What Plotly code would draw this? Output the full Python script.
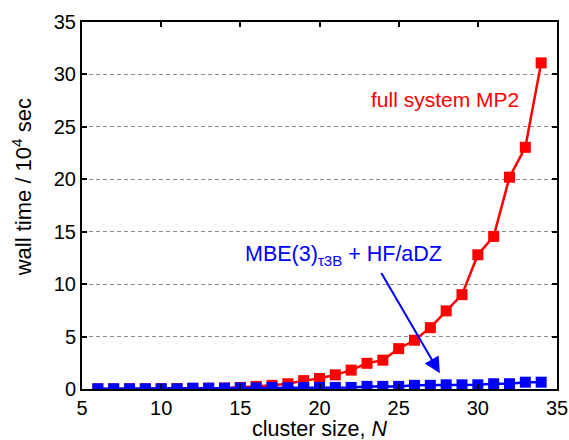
import plotly.graph_objects as go

# cluster sizes and wall times (units of 10^4 s)
n_full = list(range(6, 35))
t_full = [0.01, 0.01, 0.02, 0.02, 0.03, 0.04, 0.05, 0.07, 0.1,
          0.15, 0.25, 0.35, 0.5, 0.8, 1.0, 1.35, 1.8, 2.45, 2.75,
          3.85, 4.65, 5.85, 7.45, 9.0, 12.8, 14.55, 20.2, 23.05, 31.1]

n_mbe = list(range(6, 35))
t_mbe = [0.02, 0.02, 0.02, 0.02, 0.02, 0.02, 0.08, 0.08, 0.08,
         0.1, 0.1, 0.15, 0.12, 0.15, 0.15, 0.15, 0.15, 0.25, 0.25,
         0.25, 0.35, 0.35, 0.4, 0.4, 0.4, 0.5, 0.5, 0.65, 0.65]

x_ticks = [5, 10, 15, 20, 25, 30, 35]
y_ticks = [0, 5, 10, 15, 20, 25, 30, 35]

FONT = "Liberation Sans, Arial, Helvetica, sans-serif"
RED = "#ff0000"
BLUE = "#0000ff"

fig = go.Figure()
fig.add_trace(go.Scatter(
    x=n_full, y=t_full, mode="lines+markers",
    line=dict(color=RED, width=2.5),
    marker=dict(symbol="square", size=11, color=RED),
    showlegend=False,
))
fig.add_trace(go.Scatter(
    x=n_mbe, y=t_mbe, mode="lines+markers",
    line=dict(color=BLUE, width=2.5),
    marker=dict(symbol="square", size=11, color=BLUE),
    showlegend=False,
))

axis_common = dict(
    showline=True, linecolor="black", linewidth=2, mirror="ticks",
    ticks="inside", ticklen=5, tickwidth=2, tickcolor="black",
    tickfont=dict(family=FONT, size=20, color="black"),
    zeroline=False, automargin=False,
)

fig.update_xaxes(range=[5, 35], tickvals=x_ticks, showgrid=False,
                 **axis_common)
fig.update_yaxes(range=[0, 35], tickvals=y_ticks,
                 showgrid=True, gridcolor="#8c8c8c", gridwidth=1,
                 griddash="4px,3px", **axis_common)

# axis titles
fig.add_annotation(
    x=0.5, y=-0.108, xref="paper", yref="paper", showarrow=False,
    text="cluster size, <i>N</i>", yanchor="middle",
    font=dict(family=FONT, size=21.5, color="black"),
)
fig.add_annotation(
    x=-0.126, y=0.55, xref="paper", yref="paper", showarrow=False,
    text="wall time / 10<sup>4</sup> sec", textangle=-90,
    xanchor="center", yanchor="middle",
    font=dict(family=FONT, size=22, color="black"),
)

# series labels
fig.add_annotation(
    x=27.9, y=27.6, xref="x", yref="y", showarrow=False,
    text="full system MP2",
    font=dict(family=FONT, size=21, color=RED),
)
fig.add_annotation(
    x=21.5, y=12.7, xref="x", yref="y", showarrow=False,
    text="MBE(3)<sub>τ3B</sub> + HF/aDZ",
    font=dict(family=FONT, size=21.5, color=BLUE),
)
fig.add_annotation(
    x=27.6, y=1.5, xref="x", yref="y",
    ax=23.85, ay=11.2, axref="x", ayref="y",
    showarrow=True, arrowhead=2, arrowsize=1.6, arrowwidth=2,
    arrowcolor=BLUE, text="",
)

fig.update_layout(
    width=569, height=440,
    margin=dict(l=82, r=12, t=22, b=51),
    paper_bgcolor="white", plot_bgcolor="white",
    font=dict(family=FONT, color="black"),
)

fig.write_html("out.html")
